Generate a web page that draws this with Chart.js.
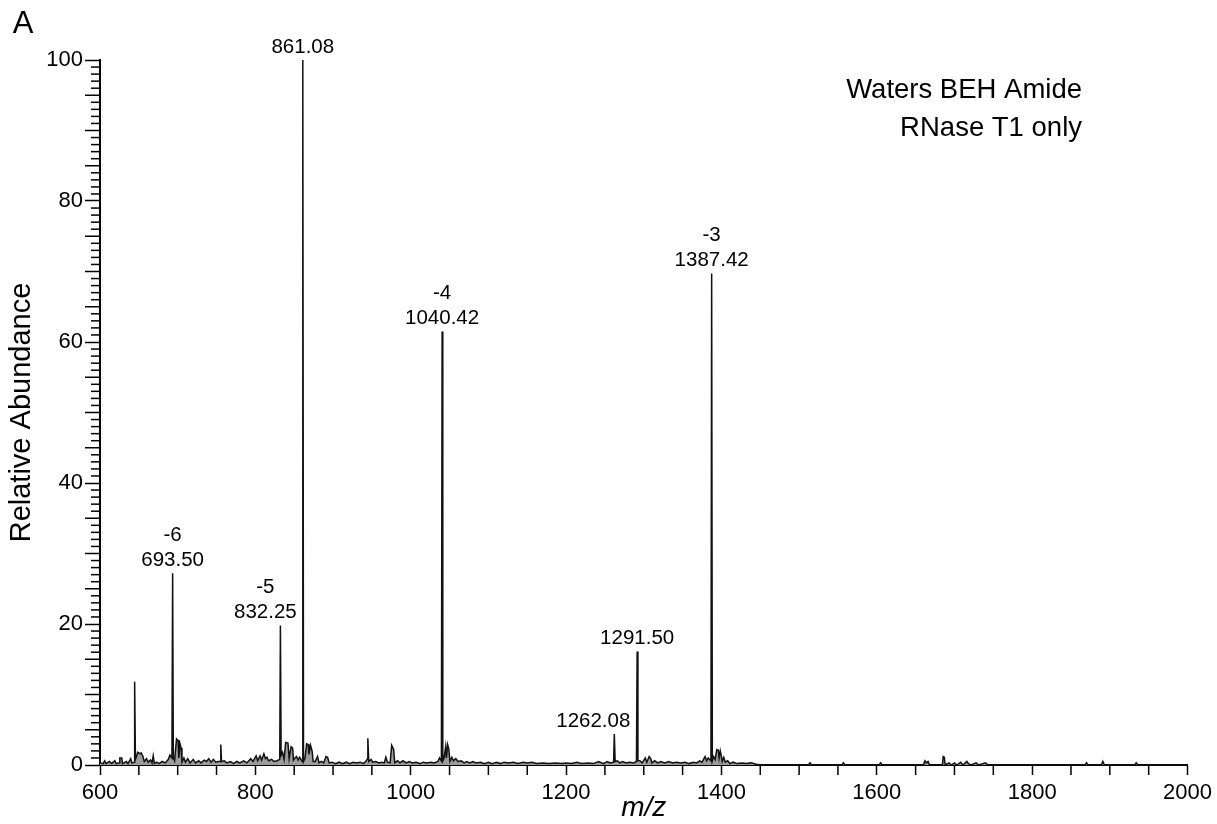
<!DOCTYPE html>
<html>
<head>
<meta charset="utf-8">
<script src="https://cdn.jsdelivr.net/npm/chart.js@4"></script>
<style>
  body { margin: 0; background: #fff; }
  #wrap { width: 1217px; height: 824px; }
</style>
</head>
<body>
<div id="wrap"><canvas id="spec" width="1217" height="824"></canvas></div>
<script>
// spectrum profile: [m/z, relative abundance]
const spectrum = [
  [600, 0.3], [604, 0.2], [606, 0.6], [608, 0.2], [612, 0.5], [615, 0.2], [619, 0.6], [621, 0.2],
  [624.5, 0.3], [625.5, 1.0], [628, 1.0], [629, 0.2], [634, 0.5], [636, 0.2], [639.5, 0.9], [641, 0.3],
  [643.8, 0.4], [644.6, 11.8], [645.6, 0.8], [647, 1.2], [648.5, 1.8], [651, 1.6], [653, 1.7], [655, 1.3],
  [657, 0.5], [660, 0.9], [662, 0.4], [665, 0.7], [667, 0.3], [668.5, 1.3], [670, 0.2], [673, 0.4],
  [676, 0.2], [680, 0.5], [684, 0.3], [688, 0.8], [690, 1.4], [692.6, 1.0], [693.5, 27.2], [694.4, 1.0],
  [696, 0.6], [698.5, 3.7], [700.5, 3.5], [701.5, 1.0], [703, 3.0], [704.5, 2.4], [705.5, 0.4], [708, 1.0],
  [710, 0.4], [713, 0.9], [716, 0.3], [720, 0.8], [723, 0.3], [727, 0.6], [730, 0.3], [734, 0.7],
  [737, 0.5], [740, 0.9], [743, 0.4], [746, 0.8], [749, 0.4], [752, 0.5], [754.6, 0.5], [755.5, 2.9],
  [756.4, 0.5], [760, 0.6], [763, 0.3], [768, 0.5], [772, 0.2], [776, 0.5], [780, 0.3], [785, 0.6],
  [789, 0.3], [794, 0.9], [797, 0.5], [801, 1.3], [803, 0.6], [806, 1.3], [808, 0.7], [811, 1.6],
  [813, 0.9], [815, 1.1], [817, 0.6], [821, 0.8], [824, 0.5], [828, 0.6], [831.4, 0.8], [832.25, 19.8],
  [833.2, 1.4], [835, 1.8], [837, 0.8], [839, 3.2], [842, 3.1], [843.5, 0.9], [846, 2.6], [848, 2.4],
  [849, 0.7], [851, 1.0], [853, 1.2], [855, 0.7], [857, 1.1], [860.2, 0.5], [861.08, 100], [862, 0.5],
  [864, 1.0], [866, 3.0], [868, 2.9], [869, 1.5], [871, 2.8], [873, 2.0], [874.5, 0.5], [877, 0.5],
  [880, 1.2], [882, 0.3], [885, 0.5], [888, 0.3], [891, 1.2], [893, 1.1], [895, 0.3], [899, 0.4],
  [903, 0.2], [908, 0.4], [912, 0.2], [917, 0.4], [921, 0.2], [926, 0.4], [930, 0.3], [935, 0.4],
  [939, 0.2], [942, 0.5], [944, 0.8], [944.8, 3.8], [946, 0.5], [949, 0.8], [951, 0.4], [955, 0.5],
  [959, 0.3], [963, 0.4], [966, 0.3], [968, 1.1], [970, 0.4], [973.5, 0.3], [975.5, 2.8], [978, 2.2],
  [979.5, 0.3], [983, 0.6], [986, 0.3], [990, 0.6], [994, 0.3], [998, 0.5], [1002, 0.3], [1007, 0.4],
  [1012, 0.2], [1016, 0.4], [1021, 0.3], [1026, 0.4], [1030, 0.3], [1035, 0.5], [1037, 1.0], [1039.5, 0.6],
  [1040.42, 61.5], [1041.3, 0.6], [1043, 1.0], [1045, 2.6], [1046, 1.0], [1047.5, 2.9], [1049, 2.3], [1050.5, 0.5],
  [1053, 1.1], [1055, 0.6], [1058, 0.9], [1061, 0.5], [1065, 0.6], [1069, 0.3], [1072, 0.5], [1076, 0.3],
  [1080, 0.5], [1084, 0.3], [1090, 0.4], [1095, 0.2], [1100, 0.4], [1105, 0.2], [1110, 0.4], [1116, 0.2],
  [1120, 0.4], [1126, 0.3], [1132, 0.4], [1138, 0.2], [1145, 0.4], [1150, 0.3], [1156, 0.4], [1162, 0.2],
  [1170, 0.3], [1178, 0.2], [1186, 0.3], [1194, 0.2], [1200, 0.3], [1207, 0.2], [1214, 0.4], [1220, 0.2],
  [1228, 0.3], [1235, 0.2], [1242, 0.5], [1248, 0.2], [1253, 0.5], [1257, 0.3], [1261.2, 0.4], [1262.08, 4.4],
  [1263.2, 0.5], [1266, 0.6], [1269, 0.3], [1273, 0.5], [1277, 0.3], [1282, 0.4], [1287, 0.3], [1290.6, 0.5],
  [1291.5, 16.1], [1292.5, 0.6], [1295, 0.6], [1298, 0.3], [1302, 1.0], [1304, 0.4], [1307, 1.2], [1309, 0.9],
  [1310.5, 0.3], [1314, 0.6], [1318, 0.3], [1322, 0.5], [1327, 0.3], [1332, 0.5], [1337, 0.3], [1342, 0.4],
  [1348, 0.3], [1353, 0.4], [1358, 0.2], [1364, 0.4], [1368, 0.3], [1372, 0.6], [1375, 0.4], [1379, 1.2],
  [1381, 0.6], [1383, 1.0], [1386.5, 0.6], [1387.42, 69.7], [1388.3, 0.6], [1390, 1.2], [1392, 0.8], [1394, 2.2],
  [1396, 2.1], [1397, 1.0], [1398.5, 2.0], [1400, 1.2], [1401, 0.5], [1403, 1.1], [1405, 0.4], [1408, 0.6],
  [1411, 0.2], [1415, 0.4], [1420, 0.2], [1426, 0.3], [1432, 0.2], [1438, 0.3], [1445, 0.1], [1450, 0],
  [1512, 0], [1514, 0.3], [1516, 0], [1555, 0], [1557, 0.3], [1559, 0], [1603, 0], [1605, 0.3],
  [1607, 0], [1660, 0], [1662, 0.6], [1664, 0.3], [1666, 0.5], [1668, 0], [1684.5, 0], [1685.5, 1.2],
  [1687, 1.1], [1688, 0], [1693, 0.3], [1696, 0], [1700, 0.3], [1703, 0], [1708, 0.4], [1711, 0],
  [1716, 0.5], [1718, 0.2], [1721, 0], [1728, 0.3], [1731, 0], [1740, 0.3], [1743, 0], [1868, 0],
  [1870, 0.3], [1872, 0], [1889, 0], [1891, 0.5], [1893, 0], [1932, 0], [1934, 0.3], [1936, 0],
  [2000, 0]
];

// labelled peaks
const peakMz = [693.50, 832.25, 861.08, 1040.42, 1262.08, 1291.50, 1387.42];
const peakHeight = [27.2, 19.8, 100, 61.5, 4.4, 16.1, 69.7];
const peakText = ['693.50', '832.25', '861.08', '1040.42', '1262.08', '1291.50', '1387.42'];
const chargeText = ['-6', '-5', '', '-4', '', '', '-3'];
// horizontal nudge (px) so labels don't sit on the neighbouring peak
const labelNudge = [0, -15, 0, 0, -21, 0, 0];

const sampleLines = ['Waters BEH Amide', 'RNase T1 only'];
const panelLetter = 'A';

const FONT = "'Liberation Sans', Arial, Helvetica, sans-serif";

// extra tick marks + annotation text, placed with the chart's own scales
const decor = {
  id: 'decor',
  afterDraw(chart) {
    const ctx = chart.ctx;
    const xs = chart.scales.x, ys = chart.scales.y;
    const area = chart.chartArea;
    ctx.save();
    ctx.strokeStyle = '#000';
    ctx.lineWidth = 1.5;

    // y: every 1 (short) and every 5 (long)
    for (let v = 1; v < 100; v++) {
      if (v % 20 === 0) continue;
      const py = ys.getPixelForValue(v);
      const len = v % 5 === 0 ? 15 : 9;
      ctx.beginPath();
      ctx.moveTo(area.left - len, py);
      ctx.lineTo(area.left, py);
      ctx.stroke();
    }
    // x: every 50
    for (let v = 650; v < 2000; v += 50) {
      if (v % 200 === 0) continue;
      const px = xs.getPixelForValue(v);
      ctx.beginPath();
      ctx.moveTo(px, area.bottom);
      ctx.lineTo(px, area.bottom + 10);
      ctx.stroke();
    }

    ctx.fillStyle = '#000';
    ctx.textAlign = 'center';
    ctx.textBaseline = 'middle';
    ctx.font = '20.5px ' + FONT;
    peakMz.forEach((mz, i) => {
      const px = xs.getPixelForValue(mz) + labelNudge[i];
      const py = ys.getPixelForValue(peakHeight[i]);
      ctx.fillText(peakText[i], px, py - 13);
      if (chargeText[i]) ctx.fillText(chargeText[i], px, py - 38);
    });

    ctx.font = '27.5px ' + FONT;
    ctx.textAlign = 'right';
    ctx.fillText(sampleLines[0], 1082, 90);
    ctx.fillText(sampleLines[1], 1082, 128);

    ctx.font = '31px ' + FONT;
    ctx.textAlign = 'center';
    ctx.fillText(panelLetter, 23, 24);
    ctx.restore();
  }
};

new Chart(document.getElementById('spec'), {
  type: 'line',
  data: {
    datasets: [{
      data: spectrum.map(p => ({ x: p[0], y: p[1] })),
      borderColor: '#111',
      borderWidth: 1.5,
      backgroundColor: '#9c9c9c',
      fill: 'origin',
      pointRadius: 0,
      tension: 0,
      clip: false
    }]
  },
  options: {
    responsive: false,
    animation: false,
    layout: { padding: { top: 60, right: 29.5, bottom: 0, left: 0 } },
    plugins: { legend: { display: false }, tooltip: { enabled: false } },
    scales: {
      x: {
        type: 'linear',
        min: 600,
        max: 2000,
        ticks: { stepSize: 200, color: '#000', font: { size: 22, family: FONT }, padding: 5, maxRotation: 0, callback: v => String(v) },
        grid: { drawOnChartArea: false, tickLength: 10, tickWidth: 1.5, tickColor: '#000' },
        border: { color: '#000', width: 2 },
        title: { display: true, text: 'm/z', color: '#000', font: { size: 28, style: 'italic', family: FONT, lineHeight: 1 }, padding: { top: 0, bottom: 2 } },
        afterFit(s) { s.height = 59; }
      },
      y: {
        min: 0,
        max: 100,
        ticks: { stepSize: 20, color: '#000', font: { size: 22, family: FONT }, padding: 2, callback: v => String(v) },
        grid: { drawOnChartArea: false, tickLength: 15, tickWidth: 1.5, tickColor: '#000' },
        border: { color: '#000', width: 2 },
        title: { display: true, text: 'Relative Abundance', color: '#000', font: { size: 29, family: FONT, lineHeight: 1.2 }, padding: { top: 5, bottom: 0 } },
        afterFit(s) { s.width = 100; }
      }
    }
  },
  plugins: [decor]
});
</script>
</body>
</html>
